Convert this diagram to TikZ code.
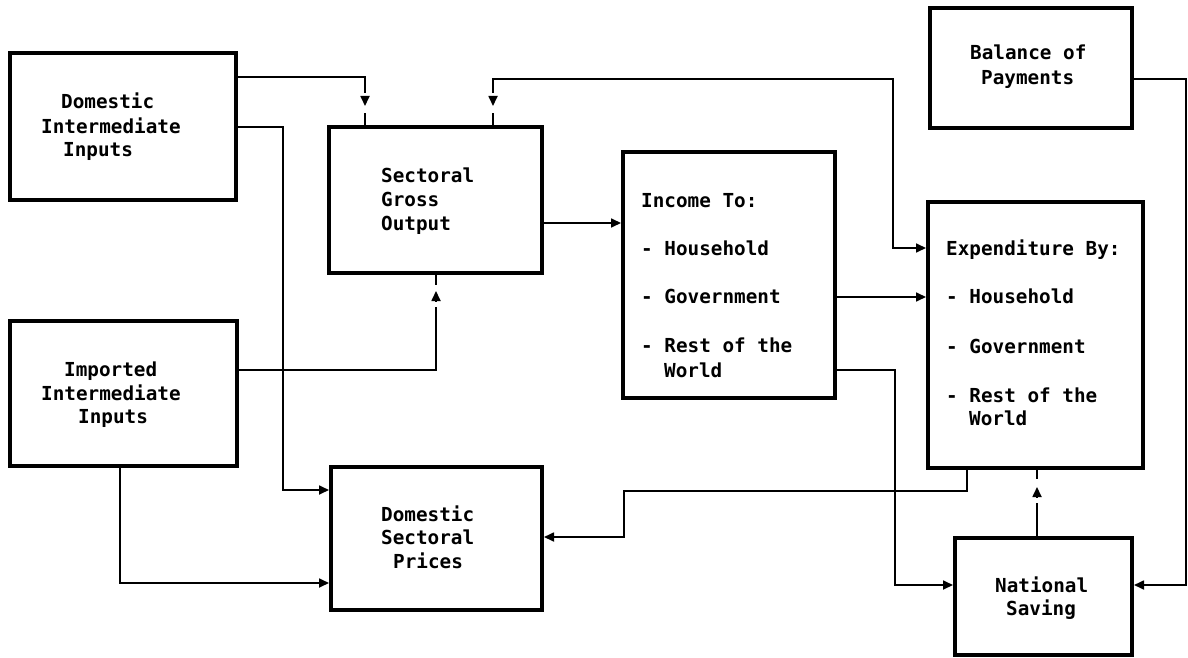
\documentclass[tikz,border=0pt]{standalone}
\usepackage{fontspec}
\newfontfamily\diafont{DejaVu Sans Mono}
\usetikzlibrary{arrows.meta}
\begin{document}
\begin{tikzpicture}[x=1pt,y=-1pt,
  box/.style={draw, line width=4pt, inner sep=0pt, outer sep=0pt, minimum width=#1},
  txt/.style={font={\fontsize{19.3}{24}\selectfont\diafont\bfseries}, inner sep=0pt, anchor=base west},
  conn/.style={line width=1.7pt},
  arr/.style={-{Triangle[length=10pt,width=9pt]}},
  toarr/.style={conn, arr, shorten >=2pt}
]
\useasboundingbox (0,0) rectangle (1188,658);

% boxes
\node[box=226pt, minimum height=147pt] (dii) at (123,126.5) {};
\node[box=227pt, minimum height=145pt] (iii) at (123.5,393.5) {};
\node[box=213pt, minimum height=146pt] (sgo) at (435.5,200) {};
\node[box=211pt, minimum height=143pt] (dsp) at (436.5,538.5) {};
\node[box=212pt, minimum height=246pt] (inc) at (729,275) {};
\node[box=215pt, minimum height=266pt] (exp) at (1035.5,335) {};
\node[box=202pt, minimum height=120pt] (bop) at (1031,68) {};
\node[box=177pt, minimum height=117pt] (ns) at (1043.5,596.5) {};

% texts
\node[txt] (dii1) at (61,109) {Domestic};
\node[txt] (dii2) at (41,133) {Intermediate};
\node[txt] (dii3) at (63,156) {Inputs};

\node[txt] (iii1) at (64,376) {Imported};
\node[txt] (iii2) at (41,400) {Intermediate};
\node[txt] (iii3) at (78,423) {Inputs};

\node[txt] (sgo1) at (381,182) {Sectoral};
\node[txt] (sgo2) at (381,206) {Gross};
\node[txt] (sgo3) at (381,230) {Output};

\node[txt] (dsp1) at (381,521) {Domestic};
\node[txt] (dsp2) at (381,544) {Sectoral};
\node[txt] (dsp3) at (393,568) {Prices};

\node[txt] (inc1) at (641,207) {Income To:};
\node[txt] (inc2) at (641,255) {- Household};
\node[txt] (inc3) at (641,303) {- Government};
\node[txt] (inc4) at (641,352) {- Rest of the};
\node[txt] (inc5) at (664,377) {World};

\node[txt] (exp1) at (946,255) {Expenditure By:};
\node[txt] (exp2) at (946,303) {- Household};
\node[txt] (exp3) at (946,353) {- Government};
\node[txt] (exp4) at (946,402) {- Rest of the};
\node[txt] (exp5) at (969,425) {World};

\node[txt] (bop1) at (970,60) {Balance of};
\node[txt] (bop2) at (981,85) {Payments};

\node[txt] (ns1) at (995,592) {National};
\node[txt] (ns2) at (1006,615) {Saving};

% helper coordinates
\coordinate (k1) at (365,77);  \coordinate (e1) at (365,93);
\coordinate (h1) at (365,96);  \coordinate (t1) at (365,106); \coordinate (s1) at (365,113);
\coordinate (k2a) at (493,79); \coordinate (e2) at (493,93);
\coordinate (h2) at (493,96);  \coordinate (t2) at (493,106); \coordinate (s2) at (493,113);
\coordinate (k2b) at (893,79); \coordinate (k2c) at (893,248);
\coordinate (k3) at (283,127); \coordinate (k3b) at (283,490);
\coordinate (k4) at (436,370); \coordinate (e4) at (436,307);
\coordinate (h4) at (436,301); \coordinate (t4) at (436,291); \coordinate (s4) at (436,285);
\coordinate (k5) at (120,583);
\coordinate (y6) at (0,223);
\coordinate (y7) at (0,297);
\coordinate (k8a) at (895,370); \coordinate (k8b) at (895,585);
\coordinate (k9a) at (967,491); \coordinate (k9b) at (624,491); \coordinate (k9c) at (624,537);
\coordinate (e10) at (1037,503); \coordinate (h10) at (1037,497); \coordinate (t10) at (1037,487); \coordinate (s10) at (1037,479);
\coordinate (k11a) at (1186,79); \coordinate (k11b) at (1186,585);

% connectors
\draw[conn] (dii.east |- k1) -- (k1) -- (e1);
\draw[conn, arr] (h1) -- (t1);
\draw[conn] (sgo.north -| s1) -- (s1);

\draw[toarr] (e2) -- (k2a) -- (k2b) -- (k2c) -- (exp.west |- k2c);
\draw[conn, arr] (h2) -- (t2);
\draw[conn] (sgo.north -| s2) -- (s2);

\draw[toarr] (dii.east |- k3) -- (k3) -- (k3b) -- (dsp.west |- k3b);

\draw[conn] (iii.east |- k4) -- (k4) -- (e4);
\draw[conn, arr] (h4) -- (t4);
\draw[conn] (sgo.south -| s4) -- (s4);

\draw[toarr] (iii.south -| k5) -- (k5) -- (dsp.west |- k5);

\draw[toarr] (sgo.east |- y6) -- (inc.west |- y6);
\draw[toarr] (inc.east |- y7) -- (exp.west |- y7);

\draw[toarr] (inc.east |- k8a) -- (k8a) -- (k8b) -- (ns.west |- k8b);

\draw[toarr] (exp.south -| k9a) -- (k9a) -- (k9b) -- (k9c) -- (dsp.east |- k9c);

\draw[conn] (ns.north -| e10) -- (e10);
\draw[conn, arr] (h10) -- (t10);
\draw[conn] (exp.south -| s10) -- (s10);

\draw[toarr] (bop.east |- k11a) -- (k11a) -- (k11b) -- (ns.east |- k11b);
\end{tikzpicture}
\end{document}
